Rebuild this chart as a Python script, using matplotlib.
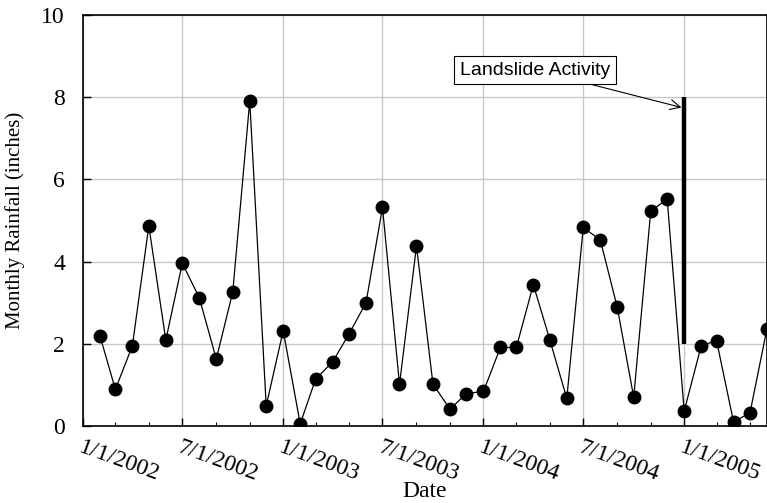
import numpy as np
import pandas as pd
import matplotlib
matplotlib.use("Agg")
import matplotlib.pyplot as plt
import matplotlib.dates as mdates

# monthly rainfall, Feb 2002 .. Jun 2005
months = pd.date_range("2002-02-01", "2005-06-01", freq="MS")
rain = [2.19, 0.89, 1.95, 4.87, 2.09, 3.96, 3.12, 1.63, 3.26, 7.91, 0.49,
        2.32, 0.05, 1.14, 1.56, 2.24, 3.00, 5.32, 1.01, 4.38, 1.02, 0.41, 0.79,
        0.84, 1.91, 1.91, 3.44, 2.10, 0.67, 4.83, 4.53, 2.89, 0.70, 5.22, 5.53,
        0.36, 1.95, 2.08, 0.10, 0.32, 2.37]

slide_date = pd.Timestamp("2005-01-01")
slide_range = [2, 8]
slide_label = "Landslide Activity"

serif = "Liberation Serif"
fs = 17

fig = plt.figure(figsize=(7.67, 5.03), dpi=100)
ax = fig.add_axes([83/767, 77/503, 684/767, 411/503])

ax.plot(months, rain, '-', color='black', lw=0.9, marker='o', ms=9,
        mfc='black', mec='black', zorder=3)
ax.plot([slide_date, slide_date], slide_range, color='black', lw=3.2,
        solid_capstyle='butt', zorder=4)

ax.annotate(slide_label, xy=(slide_date - pd.Timedelta(days=5), 7.75),
            xytext=(pd.Timestamp("2004-04-04"), 8.66),
            ha='center', va='center', fontsize=14, family="Liberation Sans",
            bbox=dict(boxstyle='square,pad=0.3', fc='white', ec='black', lw=0.8),
            arrowprops=dict(arrowstyle='->', color='black', lw=0.8,
                            mutation_scale=18, shrinkA=0, shrinkB=0))

ax.set_xlim(pd.Timestamp("2002-01-01"), pd.Timestamp("2005-06-01"))
ax.set_ylim(0, 10)
ax.set_yticks([0, 2, 4, 6, 8, 10])

ax.xaxis.set_major_locator(mdates.MonthLocator(bymonth=[1, 7]))
ax.xaxis.set_major_formatter(mdates.DateFormatter('%-m/%-d/%Y'))
ax.xaxis.set_minor_locator(mdates.MonthLocator(bymonth=[3, 5, 9, 11]))

ax.grid(True, which='major', color='#c8c8c8', lw=1)
ax.set_axisbelow(True)
ax.tick_params(which='major', direction='in', length=6, width=1, pad=8)
ax.tick_params(which='minor', direction='in', length=3, width=0.8)
ax.tick_params(axis='y', pad=13)
for lbl in ax.get_xticklabels():
    lbl.set_rotation(-20)
    lbl.set_ha('left')
    lbl.set_va('top')
    lbl.set_rotation_mode('anchor')
    lbl.set_family(serif)
    lbl.set_fontsize(fs)
for lbl in ax.get_yticklabels():
    lbl.set_family(serif)
    lbl.set_fontsize(fs)

for s in ax.spines.values():
    s.set_linewidth(1.2)

ax.set_xlabel("Date", family=serif, fontsize=fs)
ax.xaxis.set_label_coords(0.5, -0.135)
ax.set_ylabel("Monthly Rainfall (inches)", family=serif, fontsize=15)
ax.yaxis.set_label_coords(-0.085, 0.5)

fig.savefig("out.png", dpi=100)
